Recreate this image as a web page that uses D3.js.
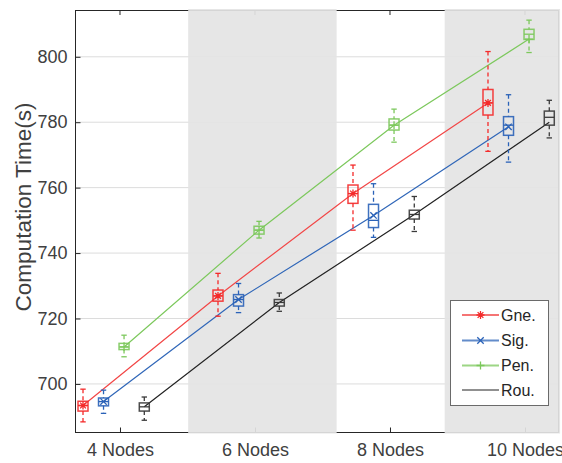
<!DOCTYPE html>
<html>
<head>
<meta charset="utf-8">
<script src="https://cdn.jsdelivr.net/npm/d3@7"></script>
<style>
  html, body { margin: 0; padding: 0; background: #fff; }
  svg { display: block; font-family: "Liberation Sans", Arial, Helvetica, sans-serif; }
</style>
</head>
<body>
<svg id="chart" width="562" height="463"></svg>
<script>
// Node-count categories on the x axis
const categories = ["4 Nodes", "6 Nodes", "8 Nodes", "10 Nodes"];
const yTicks = [700, 720, 740, 760, 780, 800];
const seriesNames = ["Gne.", "Sig.", "Pen.", "Rou."];

// Box statistics per category: [lower whisker, Q1, median, Q3, upper whisker]
const gneStats = [[688.4, 691.7, 693.4, 694.7, 698.4], [720.7, 725.3, 726.9, 728.7, 733.8], [747.0, 755.2, 758.2, 760.8, 766.9], [771.1, 782.2, 785.9, 790.0, 801.6]];
const sigStats = [[691.0, 693.3, 694.6, 695.7, 698.1], [721.8, 723.8, 725.8, 727.3, 730.7], [744.8, 747.8, 750.0, 754.9, 761.2], [767.8, 776.0, 779.1, 781.7, 788.4]];
const penStats = [[708.3, 710.5, 711.3, 712.4, 714.9], [744.6, 745.8, 747.0, 748.2, 749.7], [773.9, 777.6, 779.1, 781.0, 784.0], [801.3, 805.3, 806.9, 808.4, 811.2]];
const rouStats = [[688.9, 691.7, 693.0, 694.2, 696.0], [722.2, 723.8, 724.9, 725.8, 727.8], [746.6, 750.4, 751.8, 753.1, 757.3], [775.2, 779.1, 781.5, 783.4, 786.7]];

// Mean computation time per category (joined by the trend lines)
const gneMean = [693.4, 726.9, 758.2, 785.9];
const sigMean = [694.6, 725.8, 751.5, 778.6];
const penMean = [711.3, 747.0, 779.1, 805.4];
const rouMean = [693.0, 724.9, 751.8, 780.0];

// Shaded column ranges (in category-position units)
const bandStarts = [1.505, 3.405];
const bandEnds = [2.605, 4.26];

const series = [
  { name: seriesNames[0], stats: gneStats, mean: gneMean, color: "#F42A2A", line: "#F24646", marker: "star" },
  { name: seriesNames[1], stats: sigStats, mean: sigMean, color: "#2A62B8", line: "#2F66B8", marker: "x" },
  { name: seriesNames[2], stats: penStats, mean: penMean, color: "#7CC85C", line: "#7CC85C", marker: "plus" },
  { name: seriesNames[3], stats: rouStats, mean: rouMean, color: "#3A3A3A", line: "#222222", marker: null }
];
const seriesOffsets = [-0.274, -0.122, 0.03, 0.18];

const svg = d3.select("#chart");
const plotLeft = 75, plotRight = 559, plotTop = 10, plotBottom = 433;

const x = d3.scaleLinear().domain([0.6667, 4.252]).range([plotLeft, plotRight]);
const y = d3.scaleLinear().domain([685, 814.3]).range([plotBottom, plotTop]);
const textColor = "#404040";

// horizontal grid
svg.append("g").selectAll("line").data(yTicks).join("line")
  .attr("x1", plotLeft).attr("x2", plotRight)
  .attr("y1", d => y(d)).attr("y2", d => y(d))
  .attr("stroke", "#dcdcdc").attr("stroke-width", 1);

// axes frame
const frame = svg.append("g").attr("stroke", "#262626").attr("stroke-width", 1).attr("fill", "none");
frame.append("rect").attr("x", plotLeft + 0.5).attr("y", plotTop + 0.5).attr("width", plotRight - plotLeft - 1).attr("height", plotBottom - plotTop - 1);

// inward ticks
const xPos = categories.map((c, i) => i + 1);
const yAxis = d3.axisLeft(y).tickValues(yTicks).tickSize(-5).tickPadding(8);
const gy = svg.append("g").attr("transform", `translate(${plotLeft + 0.5},0)`).call(yAxis);
gy.select(".domain").remove();
gy.selectAll(".tick line").attr("stroke", "#262626");
gy.selectAll(".tick text").attr("fill", textColor).style("font-size", "18px").style("font-family", "Liberation Sans, Arial, sans-serif");

const xAxis = d3.axisBottom(x).tickValues(xPos).tickFormat((d, i) => categories[i]).tickSize(-5).tickPadding(11);
const gx = svg.append("g").attr("transform", `translate(0,${plotBottom - 0.5})`).call(xAxis);
gx.select(".domain").remove();
gx.selectAll(".tick line").attr("stroke", "#262626");
gx.selectAll(".tick text").attr("fill", textColor).style("font-size", "18px").style("font-family", "Liberation Sans, Arial, sans-serif");

svg.append("g").selectAll("line").data(xPos).join("line")
  .attr("x1", d => x(d)).attr("x2", d => x(d))
  .attr("y1", plotTop).attr("y2", plotTop + 5)
  .attr("stroke", "#262626");

// shaded columns over the grid and frame
svg.append("g").selectAll("rect").data(bandStarts).join("rect")
  .attr("x", d => x(d)).attr("y", plotTop - 1)
  .attr("width", (d, i) => x(bandEnds[i]) - x(d))
  .attr("height", plotBottom - plotTop + 1.5)
  .attr("fill", "#E4E4E4").attr("fill-opacity", 0.92);

// trend lines through the means
const lineGen = d3.line().x(d => x(d[0])).y(d => y(d[1]));
series.forEach((s, si) => {
  svg.append("path")
    .attr("d", lineGen(s.mean.map((m, i) => [xPos[i] + seriesOffsets[si], m])))
    .attr("fill", "none").attr("stroke", s.line).attr("stroke-width", 1.2);
});

function markerPath(type, r) {
  if (type === "plus") return `M${-r},0H${r}M0,${-r}V${r}`;
  if (type === "x") { const a = r * 0.8; return `M${-a},${-a}L${a},${a}M${-a},${a}L${a},${-a}`; }
  if (type === "star") { const a = r * 0.72; return `M${-r},0H${r}M0,${-r}V${r}M${-a},${-a}L${a},${a}M${-a},${a}L${a},${-a}`; }
  return "";
}

// box plots
const boxHalf = x(1.037) - x(1);
const capHalf = x(1.02) - x(1);
series.forEach((s, si) => {
  const g = svg.append("g").attr("stroke", s.color).attr("fill", "none");
  s.stats.forEach((st, i) => {
    const cx = x(xPos[i] + seriesOffsets[si]);
    const [lo, q1, med, q3, hi] = st;
    // whiskers
    g.append("line").attr("x1", cx).attr("x2", cx).attr("y1", y(hi)).attr("y2", y(q3))
      .attr("stroke-width", 1.3).attr("stroke-dasharray", "4,3");
    g.append("line").attr("x1", cx).attr("x2", cx).attr("y1", y(q1)).attr("y2", y(lo))
      .attr("stroke-width", 1.3).attr("stroke-dasharray", "4,3");
    // caps
    g.append("line").attr("x1", cx - capHalf).attr("x2", cx + capHalf).attr("y1", y(hi)).attr("y2", y(hi)).attr("stroke-width", 1.3);
    g.append("line").attr("x1", cx - capHalf).attr("x2", cx + capHalf).attr("y1", y(lo)).attr("y2", y(lo)).attr("stroke-width", 1.3);
    // box
    g.append("rect").attr("x", cx - boxHalf).attr("y", y(q3))
      .attr("width", boxHalf * 2).attr("height", y(q1) - y(q3))
      .attr("stroke-width", 1.5).attr("stroke-opacity", 0.9);
    // median
    g.append("line").attr("x1", cx - boxHalf).attr("x2", cx + boxHalf).attr("y1", y(med)).attr("y2", y(med)).attr("stroke-width", 1.3);
    // mean marker
    if (s.marker) {
      g.append("path").attr("transform", `translate(${cx},${y(s.mean[i])})`)
        .attr("d", markerPath(s.marker, 4)).attr("stroke-width", 1.3);
    }
  });
});

// y axis title
svg.append("text")
  .attr("transform", `translate(31,207) rotate(-90)`)
  .attr("text-anchor", "middle").attr("fill", textColor)
  .style("font-size", "22.5px")
  .text("Computation Time(s)");

// legend
const lg = svg.append("g");
lg.append("rect").attr("x", 450.5).attr("y", 300.5).attr("width", 98).attr("height", 105)
  .attr("fill", "#fff").attr("stroke", "#6a6a6a").attr("stroke-width", 1);
const legendY = [315, 340.5, 365.5, 390];
series.forEach((s, si) => {
  const ly = legendY[si];
  lg.append("line").attr("x1", 462).attr("x2", 499).attr("y1", ly).attr("y2", ly)
    .attr("stroke", s.line).attr("stroke-width", si === 3 ? 1.2 : 2).attr("stroke-opacity", si === 3 ? 1 : 0.75);
  if (s.marker) {
    lg.append("path").attr("transform", `translate(480.5,${ly})`)
      .attr("d", markerPath(s.marker, 4)).attr("stroke", s.color).attr("stroke-width", 1.3).attr("fill", "none");
  }
  lg.append("text").attr("x", 501).attr("y", ly + 5.5).attr("fill", "#262626")
    .style("font-size", "16px").text(s.name);
});
</script>
</body>
</html>
